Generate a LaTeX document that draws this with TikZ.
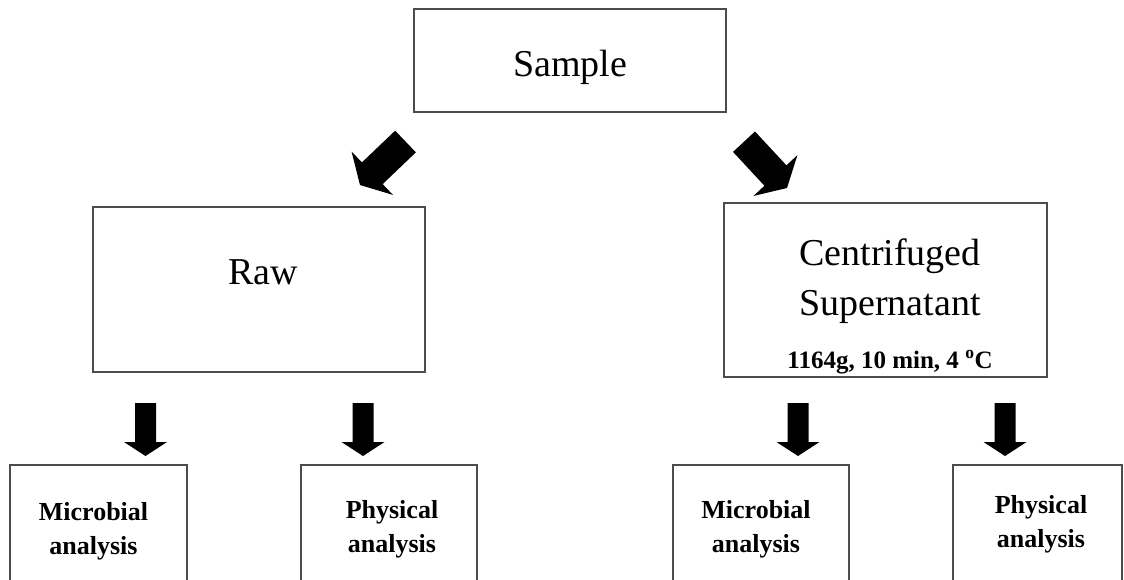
\documentclass[tikz,border=0pt]{standalone}
\usepackage{fontspec}
\setmainfont{Liberation Serif}
\usetikzlibrary{calc}
\tikzset{
  box/.style={draw=black!70, line width=1.3pt, fill=white, inner sep=0pt},
  bigtxt/.style={font=\fontsize{38}{46}\selectfont, inner sep=0pt, anchor=base},
  smalltxt/.style={font=\bfseries\fontsize{26}{34}\selectfont, inner sep=0pt, anchor=base},
  condtxt/.style={font=\bfseries\fontsize{25}{30}\selectfont, inner sep=0pt, anchor=base},
  blk/.style={fill=black}
}
\newcommand\blkarrow[5]{%
  \coordinate (hb) at ($(#2)!#5!(#1)$);
  \fill[blk] ($(#1)!#3!90:(#2)$) -- ($(hb)!#3!90:(#2)$) -- ($(hb)!#4!90:(#2)$) -- (#2)
    -- ($(hb)!#4!-90:(#2)$) -- ($(hb)!#3!-90:(#2)$) -- ($(#1)!#3!-90:(#2)$) -- cycle;
}
\begin{document}
\begin{tikzpicture}[x=1pt,y=-1pt]
\useasboundingbox (0,0) rectangle (1124,580);
\clip (0,0) rectangle (1124,580);
% boxes
\node[box, minimum width=312pt, minimum height=103pt] (sample) at (570,60.5) {};
\node[box, minimum width=332pt, minimum height=165pt] (raw) at (259,289.5) {};
\node[box, minimum width=323pt, minimum height=174pt] (cent) at (885.5,290) {};
\node[box, minimum width=177pt, minimum height=140pt] (m1) at (98.5,535) {};
\node[box, minimum width=176pt, minimum height=140pt] (p1) at (389,535) {};
\node[box, minimum width=176pt, minimum height=140pt] (m2) at (761,535) {};
\node[box, minimum width=169pt, minimum height=140pt] (p2) at (1037.5,535) {};
% texts
\node[bigtxt] (tsample) at (570,77) {Sample};
\node[bigtxt] (traw) at (263,284) {Raw};
\node[bigtxt] (tcent) at (890,265) {Centrifuged};
\node[bigtxt] (tsup) at (890,315) {Supernatant};
\node[condtxt] (tcond) at (890,368) {1164g, 10 min, 4 \textsuperscript{o}C};
\node[smalltxt] (tm1a) at (93.5,520) {Microbial};
\node[smalltxt] (tm1b) at (93.5,554) {analysis};
\node[smalltxt] (tp1a) at (392,518) {Physical};
\node[smalltxt] (tp1b) at (392,552) {analysis};
\node[smalltxt] (tm2a) at (756,518) {Microbial};
\node[smalltxt] (tm2b) at (756,552) {analysis};
\node[smalltxt] (tp2a) at (1041,513) {Physical};
\node[smalltxt] (tp2b) at (1041,547) {analysis};
% arrow end points
\coordinate (d1s) at (405.5,141.5); \coordinate (d1e) at (360,185);
\coordinate (d2s) at (744,141.7);   \coordinate (d2e) at (787,188);
\coordinate (v1s) at (145.5,403);   \coordinate (v1e) at (145.5,456);
\coordinate (v2s) at (363,403);     \coordinate (v2e) at (363,456);
\coordinate (v3s) at (798,403);     \coordinate (v3e) at (798,456);
\coordinate (v4s) at (1005,403);    \coordinate (v4e) at (1005,456);
% arrows
\blkarrow{d1s}{d1e}{15pt}{30pt}{17pt}
\blkarrow{d2s}{d2e}{15pt}{30pt}{17pt}
\blkarrow{v1s}{v1e}{10.5pt}{21.5pt}{14pt}
\blkarrow{v2s}{v2e}{10.5pt}{21.5pt}{14pt}
\blkarrow{v3s}{v3e}{10.5pt}{21.5pt}{14pt}
\blkarrow{v4s}{v4e}{10.5pt}{21.5pt}{14pt}
\end{tikzpicture}
\end{document}
